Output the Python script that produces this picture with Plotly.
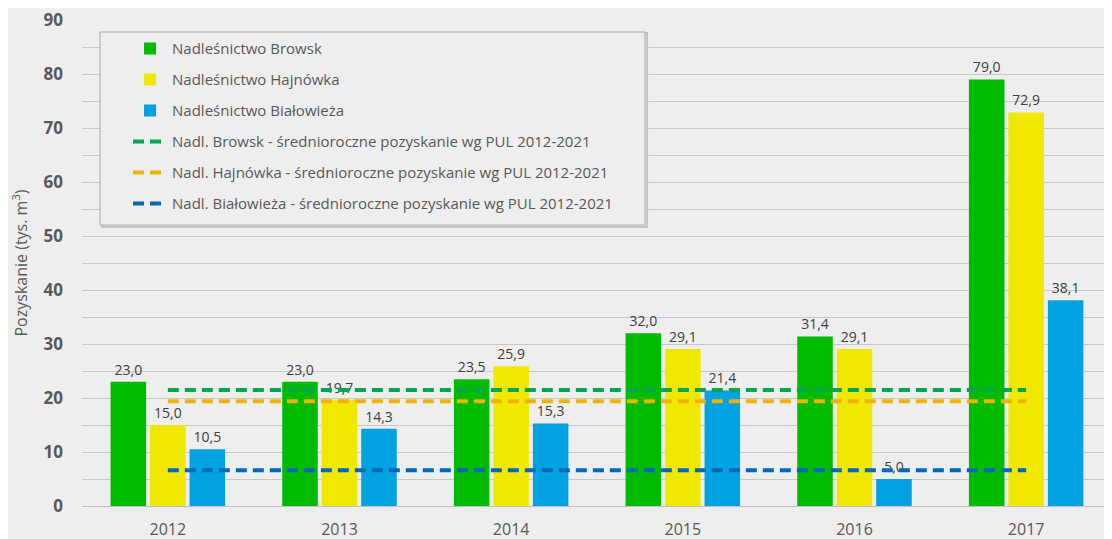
import plotly.graph_objects as go

years = ["2012", "2013", "2014", "2015", "2016", "2017"]
browsk = [23.0, 23.0, 23.5, 32.0, 31.4, 79.0]
hajnowka = [15.0, 19.7, 25.9, 29.1, 29.1, 72.9]
bialowieza = [10.5, 14.3, 15.3, 21.4, 5.0, 38.1]
avg_browsk = [21.5] * 6
avg_hajnowka = [19.4] * 6
avg_bialowieza = [6.6] * 6
y_ticks = list(range(0, 91, 5))
y_labels = [str(v) if v % 10 == 0 else "" for v in y_ticks]

bar_names = ["Nadleśnictwo Browsk", "Nadleśnictwo Hajnówka", "Nadleśnictwo Białowieża"]
line_names = [
    "Nadl. Browsk - średnioroczne pozyskanie wg PUL 2012-2021",
    "Nadl. Hajnówka - średnioroczne pozyskanie wg PUL 2012-2021",
    "Nadl. Białowieża - średnioroczne pozyskanie wg PUL 2012-2021",
]
bar_colors = ["#00BB00", "#F0E800", "#00A2E2"]
line_colors = ["#00A651", "#F0B400", "#0068B5"]

def fmt(v):
    return f"{v:.1f}".replace(".", ",")

fig = go.Figure()
for i, (name, vals, col) in enumerate(zip(bar_names, [browsk, hajnowka, bialowieza], bar_colors)):
    fig.add_trace(go.Bar(
        x=years, y=vals, name=name, marker=dict(color=col, line=dict(width=0)),
        text=[fmt(v) for v in vals], textposition="outside",
        textfont=dict(size=14, color="#404040", family="Open Sans"),
        cliponaxis=False, legendgroup=f"g{i}",
    ))
for i, (name, vals, col) in enumerate(zip(line_names, [avg_browsk, avg_hajnowka, avg_bialowieza], line_colors)):
    fig.add_trace(go.Scatter(
        x=years, y=vals, name=name, mode="lines",
        line=dict(color=col, width=4, dash="11px,6px"),
        legendgroup=f"l{i}",
    ))

# legend frame (drawn as a shape so the box matches the reference size)
fig.add_shape(type="rect", xref="paper", yref="paper",
              x0=0.0195, x1=0.5486, y0=0.574, y1=0.9733,
              line=dict(color="#C4C4C4", width=2), layer="above")
fig.add_shape(type="rect", xref="paper", yref="paper",
              x0=0.0175, x1=0.5466, y0=0.578, y1=0.9753,
              line=dict(color="#A8A8A8", width=1), fillcolor="#EEEEEE", layer="above")

fig.update_layout(
    width=1112, height=539,
    margin=dict(l=74, r=8, t=12, b=41),
    paper_bgcolor="#EEEEEE", plot_bgcolor="#EEEEEE",
    barmode="group", bargap=0.31, bargroupgap=0.1,
    font=dict(family="Open Sans", color="#595959"),
    legend=dict(
        x=0.0447, y=0.975, xanchor="left", yanchor="top",
        bgcolor="rgba(0,0,0,0)", borderwidth=0,
        font=dict(size=15, color="#595959"), tracegroupgap=8.5,
        itemwidth=34,
    ),
    xaxis=dict(
        type="category", showgrid=False, showline=True, linecolor="#BFBFBF", linewidth=1,
        tickfont=dict(size=16, color="#595959"), ticks="", ticklabelstandoff=9,
        automargin=False,
    ),
    yaxis=dict(
        range=[0, 90.02], tickmode="array", tickvals=y_ticks, ticktext=y_labels,
        showgrid=True, gridcolor="#C8C8C8", gridwidth=1,
        tickfont=dict(size=17, color="#595959", family="Open Sans", weight="bold"),
        ticklabelstandoff=18, zeroline=False, automargin=False,
        title=dict(text="Pozyskanie (tys. m<sup>3</sup>)", font=dict(size=16, color="#595959"), standoff=16),
    ),
)
fig.write_html("out.html")
